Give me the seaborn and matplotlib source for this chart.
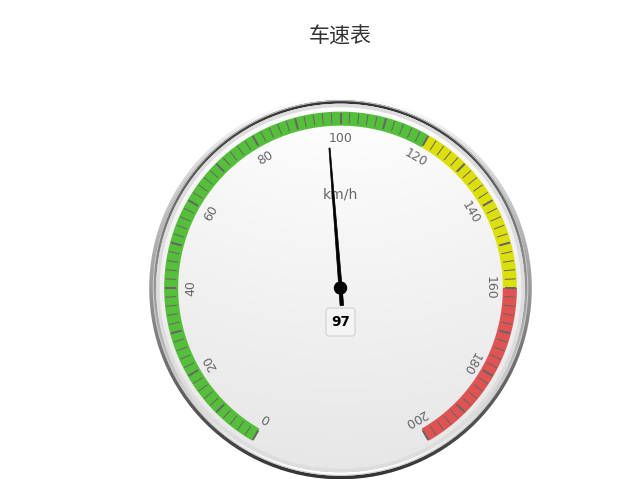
import numpy as np
import matplotlib
matplotlib.use("Agg")
import matplotlib.pyplot as plt
import seaborn as sns
from matplotlib.patches import Circle, Polygon, FancyBboxPatch
from matplotlib.colors import to_rgb

# ---- data ----
chart_title = "车速表"
unit_title = "km/h"
speed_value = 97
axis_min = 0
axis_max = 200
band_from = [0, 120, 160]
band_to = [120, 160, 200]
band_colors = ["#55BF3B", "#DDDF0D", "#DF5353"]
major_ticks = list(range(0, 201, 10))
minor_ticks = list(range(0, 201, 2))
label_values = [0, 20, 40, 60, 80, 100, 120, 140, 160, 180, 200]
tick_labels = ["0", "20", "40", "60", "80", "100", "120", "140", "160", "180", "200"]

sns.set_theme(style="white")
plt.rcParams['font.family'] = ['Noto Sans CJK SC', 'DejaVu Sans']

W, H = 641, 497
PX = 72 / 100  # points per pixel at dpi 100
fig = plt.figure(figsize=(W / 100, H / 100), dpi=100)
fig.patch.set_facecolor("white")
ax = fig.add_axes([0, 0, 1, 1])
ax.axis("off")

cx, cy = 340.5, 288.0
R = 175.5
START, END = -150.0, 150.0


def ang(v):
    return np.radians(START + (END - START) * (v - axis_min) / (axis_max - axis_min))


def pt(v, r):
    a = ang(v)
    return cx + r * np.sin(a), cy - r * np.cos(a)


def grad_circle(r, colfunc, zorder, edgecolor=None, lw=1.0):
    n = int(2 * r) + 4
    xs = np.linspace(cx - r, cx + r, n)
    ys = np.linspace(cy - r, cy + r, n)
    X, Y = np.meshgrid(xs, ys)
    img = colfunc(X, Y, r)
    im = ax.imshow(img, extent=(cx - r, cx + r, cy + r, cy - r), zorder=zorder,
                   interpolation="bilinear", aspect="auto")
    circ = Circle((cx, cy), r, facecolor="none", edgecolor="none")
    ax.add_patch(circ)
    im.set_clip_path(circ)
    if edgecolor is not None:
        ax.add_patch(Circle((cx, cy), r - lw / 2, facecolor="none", edgecolor=edgecolor,
                            linewidth=lw * PX, zorder=zorder + 0.1))


def linear(c0, c1):
    c0 = np.array(to_rgb(c0)); c1 = np.array(to_rgb(c1))

    def f(X, Y, r):
        t = np.clip((Y - (cy - r)) / (2 * r), 0, 1)[..., None]
        return c0 * (1 - t) + c1 * t
    return f


def radial_face(X, Y, r):
    c0 = np.array(to_rgb("#ffffff")); c1 = np.array(to_rgb("#e6e6e6"))
    size = 2 * r
    gx = cx
    gy = (cy - r) - 0.4 * size
    rad = 1.9 * size
    t = np.clip(np.hypot(X - gx, Y - gy) / rad, 0, 1)
    t = np.clip((t - 0.2) / 0.55, 0, 1)[..., None]
    return c0 * (1 - t) + c1 * t


# pane backgrounds
grad_circle(R * 1.09, linear("#FFFFFF", "#333333"), 1)
grad_circle(R * 1.07, linear("#333333", "#FFFFFF"), 2, edgecolor="#cccccc")
grad_circle(R * 1.05, radial_face, 3, edgecolor="#cccccc")
# #DDD ring 105% -> 103%
th = np.linspace(0, 2 * np.pi, 400)
ring_outer = np.c_[cx + R * 1.05 * np.cos(th), cy + R * 1.05 * np.sin(th)]
ring_inner = np.c_[cx + R * 1.03 * np.cos(th[::-1]), cy + R * 1.03 * np.sin(th[::-1])]
ax.add_patch(Polygon(np.vstack([ring_outer, ring_inner]), closed=True,
                     facecolor="#DDDDDD", edgecolor="none", zorder=4))

# plot bands
band_outer = R * 1.005
band_inner = R * 0.925
for f, t, c in zip(band_from, band_to, band_colors):
    vs = np.linspace(f, t, 80)
    outer = [pt(v, band_outer) for v in vs]
    inner = [pt(v, band_inner) for v in vs[::-1]]
    ax.add_patch(Polygon(outer + inner, closed=True, facecolor=c, edgecolor="none", zorder=5))

# minor ticks
for v in minor_ticks:
    x0, y0 = pt(v, R)
    x1, y1 = pt(v, R - 11)
    ax.plot([x0, x1], [y0, y1], color="#666666", lw=1 * PX, zorder=6, solid_capstyle="butt")
# major ticks
for v in major_ticks:
    x0, y0 = pt(v, R)
    x1, y1 = pt(v, R - 11)
    ax.plot([x0, x1], [y0, y1], color="#666666", lw=2 * PX, zorder=6.5, solid_capstyle="butt")

# labels
for v, lab in zip(label_values, tick_labels):
    x, y = pt(v, R - 25.5)
    rot = -np.degrees(ang(v))
    ax.text(x, y, lab, rotation=rot, rotation_mode="anchor", ha="center", va="center",
            fontsize=12.5 * PX, color="#666666", zorder=7, family=["DejaVu Sans"])

# axis title
ax.text(cx, cy - 94, unit_title, ha="center", va="center", fontsize=14 * PX,
        color="#666666", zorder=7, family=["DejaVu Sans"])

# needle
a = ang(speed_value)
ux, uy = np.sin(a), -np.cos(a)
px_, py_ = -uy, ux
rear, tip = -R * 0.10, R * 0.80
needle = [
    (cx + rear * ux + 1.8 * px_, cy + rear * uy + 1.8 * py_),
    (cx + tip * ux + 0.6 * px_, cy + tip * uy + 0.6 * py_),
    (cx + tip * ux - 0.6 * px_, cy + tip * uy - 0.6 * py_),
    (cx + rear * ux - 1.8 * px_, cy + rear * uy - 1.8 * py_),
]
ax.add_patch(Polygon(needle, closed=True, facecolor="black", edgecolor="black",
                     lw=0.5, zorder=8))
ax.add_patch(Circle((cx, cy), 6, facecolor="black", edgecolor="black", zorder=9))

# data label
bw, bh = 29, 28
ax.add_patch(FancyBboxPatch((cx - bw / 2, cy + 34 - bh / 2), bw, bh,
                            boxstyle="round,pad=0,rounding_size=3",
                            facecolor="#f4f4f4", edgecolor="#cccccc", lw=1 * PX, zorder=9))
ax.text(cx, cy + 34, str(speed_value), ha="center", va="center", fontsize=13.5 * PX,
        fontweight="bold", color="#000000", zorder=10, family=["DejaVu Sans"])

# chart title
ax.text(340, 37, chart_title, ha="center", va="center", fontsize=21 * PX, color="#333333",
        zorder=10)

ax.set_xlim(0, W)
ax.set_ylim(H, 0)
fig.savefig("out.png", dpi=100, facecolor="white")
